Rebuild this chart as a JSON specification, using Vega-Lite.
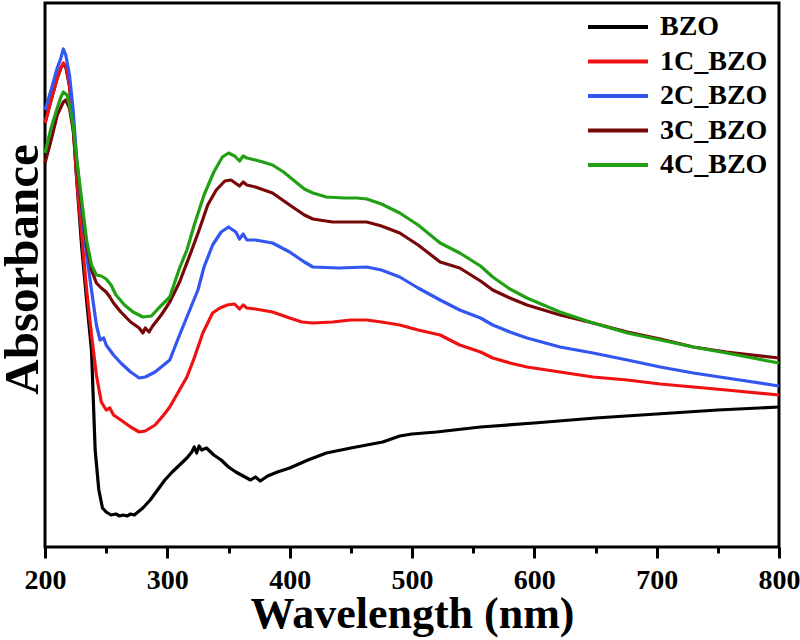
{
  "$schema": "https://vega.github.io/schema/vega-lite/v6.json",
  "width": 734,
  "height": 544,
  "autosize": {"type": "none"},
  "padding": {"left": 45, "top": 3, "right": 21, "bottom": 93},
  "background": "white",
  "config": {
    "view": {"stroke": "black", "strokeWidth": 3},
    "font": "Liberation Serif"
  },
  "datasets": {
    "spec": [
      {"s":"BZO","w":200,"a":0.848},{"s":"BZO","w":205,"a":0.894},{"s":"BZO","w":210,"a":0.938},{"s":"BZO","w":213,"a":0.958},{"s":"BZO","w":215,"a":0.966},{"s":"BZO","w":217,"a":0.960},{"s":"BZO","w":220,"a":0.922},{"s":"BZO","w":223,"a":0.842},{"s":"BZO","w":226,"a":0.732},{"s":"BZO","w":230,"a":0.600},{"s":"BZO","w":234,"a":0.494},{"s":"BZO","w":238,"a":0.394},{"s":"BZO","w":241,"a":0.194},{"s":"BZO","w":244,"a":0.114},{"s":"BZO","w":247,"a":0.078},{"s":"BZO","w":250,"a":0.070},{"s":"BZO","w":254,"a":0.064},{"s":"BZO","w":258,"a":0.066},{"s":"BZO","w":261,"a":0.062},{"s":"BZO","w":264,"a":0.064},{"s":"BZO","w":267,"a":0.062},{"s":"BZO","w":270,"a":0.066},{"s":"BZO","w":273,"a":0.064},{"s":"BZO","w":276,"a":0.070},{"s":"BZO","w":280,"a":0.078},{"s":"BZO","w":286,"a":0.094},{"s":"BZO","w":292,"a":0.114},{"s":"BZO","w":298,"a":0.134},{"s":"BZO","w":304,"a":0.150},{"s":"BZO","w":310,"a":0.164},{"s":"BZO","w":316,"a":0.178},{"s":"BZO","w":320,"a":0.190},{"s":"BZO","w":322,"a":0.200},{"s":"BZO","w":324,"a":0.188},{"s":"BZO","w":326,"a":0.202},{"s":"BZO","w":328,"a":0.194},{"s":"BZO","w":332,"a":0.198},{"s":"BZO","w":338,"a":0.184},{"s":"BZO","w":344,"a":0.174},{"s":"BZO","w":350,"a":0.160},{"s":"BZO","w":356,"a":0.150},{"s":"BZO","w":362,"a":0.142},{"s":"BZO","w":368,"a":0.134},{"s":"BZO","w":372,"a":0.140},{"s":"BZO","w":376,"a":0.132},{"s":"BZO","w":382,"a":0.142},{"s":"BZO","w":390,"a":0.150},{"s":"BZO","w":400,"a":0.158},{"s":"BZO","w":415,"a":0.174},{"s":"BZO","w":430,"a":0.188},{"s":"BZO","w":450,"a":0.198},{"s":"BZO","w":476,"a":0.210},{"s":"BZO","w":490,"a":0.222},{"s":"BZO","w":500,"a":0.226},{"s":"BZO","w":520,"a":0.230},{"s":"BZO","w":556,"a":0.240},{"s":"BZO","w":600,"a":0.248},{"s":"BZO","w":650,"a":0.258},{"s":"BZO","w":700,"a":0.266},{"s":"BZO","w":750,"a":0.274},{"s":"BZO","w":800,"a":0.280},

      {"s":"1C_BZO","w":200,"a":0.848},{"s":"1C_BZO","w":205,"a":0.894},{"s":"1C_BZO","w":210,"a":0.938},{"s":"1C_BZO","w":213,"a":0.958},{"s":"1C_BZO","w":215,"a":0.968},{"s":"1C_BZO","w":217,"a":0.962},{"s":"1C_BZO","w":220,"a":0.924},{"s":"1C_BZO","w":223,"a":0.844},{"s":"1C_BZO","w":226,"a":0.734},{"s":"1C_BZO","w":230,"a":0.624},{"s":"1C_BZO","w":234,"a":0.514},{"s":"1C_BZO","w":238,"a":0.424},{"s":"1C_BZO","w":242,"a":0.344},{"s":"1C_BZO","w":246,"a":0.290},{"s":"1C_BZO","w":250,"a":0.274},{"s":"1C_BZO","w":253,"a":0.278},{"s":"1C_BZO","w":256,"a":0.264},{"s":"1C_BZO","w":262,"a":0.254},{"s":"1C_BZO","w":270,"a":0.240},{"s":"1C_BZO","w":277,"a":0.230},{"s":"1C_BZO","w":282,"a":0.232},{"s":"1C_BZO","w":290,"a":0.244},{"s":"1C_BZO","w":297,"a":0.264},{"s":"1C_BZO","w":302,"a":0.280},{"s":"1C_BZO","w":309,"a":0.310},{"s":"1C_BZO","w":316,"a":0.340},{"s":"1C_BZO","w":322,"a":0.378},{"s":"1C_BZO","w":329,"a":0.428},{"s":"1C_BZO","w":337,"a":0.468},{"s":"1C_BZO","w":343,"a":0.478},{"s":"1C_BZO","w":349,"a":0.484},{"s":"1C_BZO","w":355,"a":0.486},{"s":"1C_BZO","w":359,"a":0.476},{"s":"1C_BZO","w":362,"a":0.484},{"s":"1C_BZO","w":365,"a":0.478},{"s":"1C_BZO","w":372,"a":0.476},{"s":"1C_BZO","w":386,"a":0.470},{"s":"1C_BZO","w":400,"a":0.458},{"s":"1C_BZO","w":410,"a":0.450},{"s":"1C_BZO","w":419,"a":0.448},{"s":"1C_BZO","w":435,"a":0.450},{"s":"1C_BZO","w":450,"a":0.454},{"s":"1C_BZO","w":463,"a":0.454},{"s":"1C_BZO","w":475,"a":0.450},{"s":"1C_BZO","w":490,"a":0.444},{"s":"1C_BZO","w":505,"a":0.434},{"s":"1C_BZO","w":523,"a":0.424},{"s":"1C_BZO","w":539,"a":0.404},{"s":"1C_BZO","w":556,"a":0.390},{"s":"1C_BZO","w":566,"a":0.378},{"s":"1C_BZO","w":580,"a":0.368},{"s":"1C_BZO","w":594,"a":0.360},{"s":"1C_BZO","w":621,"a":0.350},{"s":"1C_BZO","w":648,"a":0.340},{"s":"1C_BZO","w":676,"a":0.334},{"s":"1C_BZO","w":703,"a":0.326},{"s":"1C_BZO","w":730,"a":0.320},{"s":"1C_BZO","w":757,"a":0.314},{"s":"1C_BZO","w":800,"a":0.304},

      {"s":"2C_BZO","w":200,"a":0.874},{"s":"2C_BZO","w":205,"a":0.914},{"s":"2C_BZO","w":210,"a":0.958},{"s":"2C_BZO","w":213,"a":0.978},{"s":"2C_BZO","w":215,"a":0.996},{"s":"2C_BZO","w":217,"a":0.984},{"s":"2C_BZO","w":220,"a":0.944},{"s":"2C_BZO","w":223,"a":0.874},{"s":"2C_BZO","w":226,"a":0.774},{"s":"2C_BZO","w":230,"a":0.674},{"s":"2C_BZO","w":234,"a":0.584},{"s":"2C_BZO","w":238,"a":0.514},{"s":"2C_BZO","w":242,"a":0.444},{"s":"2C_BZO","w":245,"a":0.414},{"s":"2C_BZO","w":248,"a":0.418},{"s":"2C_BZO","w":250,"a":0.404},{"s":"2C_BZO","w":256,"a":0.384},{"s":"2C_BZO","w":262,"a":0.368},{"s":"2C_BZO","w":270,"a":0.350},{"s":"2C_BZO","w":277,"a":0.338},{"s":"2C_BZO","w":282,"a":0.340},{"s":"2C_BZO","w":290,"a":0.350},{"s":"2C_BZO","w":297,"a":0.364},{"s":"2C_BZO","w":302,"a":0.374},{"s":"2C_BZO","w":310,"a":0.424},{"s":"2C_BZO","w":316,"a":0.460},{"s":"2C_BZO","w":325,"a":0.514},{"s":"2C_BZO","w":330,"a":0.560},{"s":"2C_BZO","w":337,"a":0.604},{"s":"2C_BZO","w":344,"a":0.630},{"s":"2C_BZO","w":350,"a":0.640},{"s":"2C_BZO","w":356,"a":0.630},{"s":"2C_BZO","w":359,"a":0.616},{"s":"2C_BZO","w":362,"a":0.626},{"s":"2C_BZO","w":365,"a":0.614},{"s":"2C_BZO","w":372,"a":0.614},{"s":"2C_BZO","w":386,"a":0.608},{"s":"2C_BZO","w":400,"a":0.590},{"s":"2C_BZO","w":412,"a":0.570},{"s":"2C_BZO","w":419,"a":0.560},{"s":"2C_BZO","w":440,"a":0.558},{"s":"2C_BZO","w":463,"a":0.560},{"s":"2C_BZO","w":475,"a":0.554},{"s":"2C_BZO","w":490,"a":0.540},{"s":"2C_BZO","w":505,"a":0.518},{"s":"2C_BZO","w":523,"a":0.494},{"s":"2C_BZO","w":539,"a":0.474},{"s":"2C_BZO","w":556,"a":0.458},{"s":"2C_BZO","w":566,"a":0.444},{"s":"2C_BZO","w":580,"a":0.430},{"s":"2C_BZO","w":594,"a":0.418},{"s":"2C_BZO","w":621,"a":0.400},{"s":"2C_BZO","w":648,"a":0.388},{"s":"2C_BZO","w":676,"a":0.374},{"s":"2C_BZO","w":703,"a":0.360},{"s":"2C_BZO","w":730,"a":0.348},{"s":"2C_BZO","w":757,"a":0.338},{"s":"2C_BZO","w":800,"a":0.322},

      {"s":"3C_BZO","w":200,"a":0.768},{"s":"3C_BZO","w":205,"a":0.814},{"s":"3C_BZO","w":210,"a":0.864},{"s":"3C_BZO","w":215,"a":0.890},{"s":"3C_BZO","w":217,"a":0.894},{"s":"3C_BZO","w":220,"a":0.878},{"s":"3C_BZO","w":223,"a":0.834},{"s":"3C_BZO","w":226,"a":0.764},{"s":"3C_BZO","w":230,"a":0.684},{"s":"3C_BZO","w":234,"a":0.604},{"s":"3C_BZO","w":238,"a":0.554},{"s":"3C_BZO","w":242,"a":0.528},{"s":"3C_BZO","w":246,"a":0.518},{"s":"3C_BZO","w":250,"a":0.510},{"s":"3C_BZO","w":253,"a":0.500},{"s":"3C_BZO","w":256,"a":0.488},{"s":"3C_BZO","w":262,"a":0.470},{"s":"3C_BZO","w":270,"a":0.450},{"s":"3C_BZO","w":277,"a":0.438},{"s":"3C_BZO","w":280,"a":0.428},{"s":"3C_BZO","w":282,"a":0.438},{"s":"3C_BZO","w":285,"a":0.430},{"s":"3C_BZO","w":288,"a":0.442},{"s":"3C_BZO","w":295,"a":0.464},{"s":"3C_BZO","w":302,"a":0.490},{"s":"3C_BZO","w":310,"a":0.530},{"s":"3C_BZO","w":320,"a":0.594},{"s":"3C_BZO","w":326,"a":0.634},{"s":"3C_BZO","w":333,"a":0.684},{"s":"3C_BZO","w":340,"a":0.714},{"s":"3C_BZO","w":347,"a":0.732},{"s":"3C_BZO","w":352,"a":0.734},{"s":"3C_BZO","w":359,"a":0.722},{"s":"3C_BZO","w":362,"a":0.730},{"s":"3C_BZO","w":365,"a":0.724},{"s":"3C_BZO","w":372,"a":0.720},{"s":"3C_BZO","w":386,"a":0.708},{"s":"3C_BZO","w":400,"a":0.684},{"s":"3C_BZO","w":412,"a":0.664},{"s":"3C_BZO","w":419,"a":0.656},{"s":"3C_BZO","w":435,"a":0.650},{"s":"3C_BZO","w":450,"a":0.650},{"s":"3C_BZO","w":463,"a":0.650},{"s":"3C_BZO","w":475,"a":0.642},{"s":"3C_BZO","w":490,"a":0.628},{"s":"3C_BZO","w":505,"a":0.604},{"s":"3C_BZO","w":523,"a":0.570},{"s":"3C_BZO","w":539,"a":0.558},{"s":"3C_BZO","w":556,"a":0.532},{"s":"3C_BZO","w":566,"a":0.514},{"s":"3C_BZO","w":580,"a":0.498},{"s":"3C_BZO","w":594,"a":0.484},{"s":"3C_BZO","w":621,"a":0.464},{"s":"3C_BZO","w":648,"a":0.448},{"s":"3C_BZO","w":676,"a":0.430},{"s":"3C_BZO","w":703,"a":0.416},{"s":"3C_BZO","w":730,"a":0.400},{"s":"3C_BZO","w":757,"a":0.390},{"s":"3C_BZO","w":800,"a":0.378},

      {"s":"4C_BZO","w":200,"a":0.788},{"s":"4C_BZO","w":205,"a":0.838},{"s":"4C_BZO","w":210,"a":0.878},{"s":"4C_BZO","w":213,"a":0.900},{"s":"4C_BZO","w":215,"a":0.910},{"s":"4C_BZO","w":218,"a":0.904},{"s":"4C_BZO","w":220,"a":0.884},{"s":"4C_BZO","w":223,"a":0.844},{"s":"4C_BZO","w":226,"a":0.774},{"s":"4C_BZO","w":230,"a":0.694},{"s":"4C_BZO","w":234,"a":0.614},{"s":"4C_BZO","w":238,"a":0.564},{"s":"4C_BZO","w":242,"a":0.544},{"s":"4C_BZO","w":246,"a":0.542},{"s":"4C_BZO","w":250,"a":0.536},{"s":"4C_BZO","w":254,"a":0.524},{"s":"4C_BZO","w":258,"a":0.504},{"s":"4C_BZO","w":265,"a":0.484},{"s":"4C_BZO","w":272,"a":0.470},{"s":"4C_BZO","w":280,"a":0.460},{"s":"4C_BZO","w":287,"a":0.462},{"s":"4C_BZO","w":293,"a":0.478},{"s":"4C_BZO","w":302,"a":0.500},{"s":"4C_BZO","w":310,"a":0.558},{"s":"4C_BZO","w":316,"a":0.594},{"s":"4C_BZO","w":322,"a":0.644},{"s":"4C_BZO","w":330,"a":0.704},{"s":"4C_BZO","w":338,"a":0.750},{"s":"4C_BZO","w":345,"a":0.780},{"s":"4C_BZO","w":350,"a":0.788},{"s":"4C_BZO","w":355,"a":0.782},{"s":"4C_BZO","w":359,"a":0.772},{"s":"4C_BZO","w":362,"a":0.782},{"s":"4C_BZO","w":365,"a":0.778},{"s":"4C_BZO","w":372,"a":0.774},{"s":"4C_BZO","w":378,"a":0.770},{"s":"4C_BZO","w":386,"a":0.764},{"s":"4C_BZO","w":395,"a":0.750},{"s":"4C_BZO","w":405,"a":0.730},{"s":"4C_BZO","w":412,"a":0.716},{"s":"4C_BZO","w":419,"a":0.708},{"s":"4C_BZO","w":430,"a":0.700},{"s":"4C_BZO","w":445,"a":0.698},{"s":"4C_BZO","w":455,"a":0.698},{"s":"4C_BZO","w":463,"a":0.696},{"s":"4C_BZO","w":475,"a":0.686},{"s":"4C_BZO","w":490,"a":0.668},{"s":"4C_BZO","w":505,"a":0.644},{"s":"4C_BZO","w":523,"a":0.608},{"s":"4C_BZO","w":539,"a":0.588},{"s":"4C_BZO","w":556,"a":0.562},{"s":"4C_BZO","w":566,"a":0.540},{"s":"4C_BZO","w":580,"a":0.516},{"s":"4C_BZO","w":594,"a":0.498},{"s":"4C_BZO","w":621,"a":0.470},{"s":"4C_BZO","w":648,"a":0.448},{"s":"4C_BZO","w":676,"a":0.428},{"s":"4C_BZO","w":703,"a":0.414},{"s":"4C_BZO","w":730,"a":0.400},{"s":"4C_BZO","w":757,"a":0.388},{"s":"4C_BZO","w":800,"a":0.368}
    ]
  },
  "data": {"name": "spec"},
  "layer": [
    {
      "mark": {"type": "line", "strokeWidth": 3.2, "strokeJoin": "round"},
      "encoding": {
        "x": {
          "field": "w", "type": "quantitative",
          "scale": {"domain": [200, 800], "nice": false, "zero": false},
          "axis": {
            "orient": "bottom",
            "values": [200, 300, 400, 500, 600, 700, 800],
            "title": "Wavelength (nm)",
            "grid": false, "domain": false,
            "tickSize": 11, "tickWidth": 3, "tickColor": "black",
            "labelFont": "Liberation Serif", "labelFontWeight": "bold", "labelFontSize": 28, "labelColor": "black",
            "labelPadding": 8, "labelFlush": false,
            "titleFont": "Liberation Serif", "titleFontWeight": "bold", "titleFontSize": 44, "titleColor": "black",
            "titleBaseline": "alphabetic", "titleY": 80
          }
        },
        "y": {
          "field": "a", "type": "quantitative",
          "scale": {"domain": [0, 1.088], "nice": false, "zero": false},
          "axis": {
            "title": "Absorbance",
            "grid": false, "domain": false, "ticks": false, "labels": false,
            "titleFont": "Liberation Serif", "titleFontWeight": "bold", "titleFontSize": 49, "titleColor": "black",
            "titleBaseline": "alphabetic", "titleX": -8, "titleY": 266, "titleAngle": -90
          }
        },
        "color": {
          "field": "s", "type": "nominal",
          "scale": {
            "domain": ["BZO", "1C_BZO", "2C_BZO", "3C_BZO", "4C_BZO"],
            "range": ["#000000", "#f01212", "#3355f0", "#780808", "#22a014"]
          },
          "legend": {
            "title": null,
            "orient": "none", "legendX": 541, "legendY": 9,
            "symbolType": "stroke", "symbolSize": 3600, "symbolStrokeWidth": 4,
            "labelFont": "Liberation Serif", "labelFontWeight": "bold", "labelFontSize": 28, "labelColor": "black",
            "labelOffset": 10, "clipHeight": 30, "rowPadding": 4.5, "padding": 0
          }
        }
      }
    },
    {
      "mark": {"type": "rule", "strokeOpacity": 0},
      "encoding": {
        "x": {
          "field": "w", "type": "quantitative",
          "scale": {"domain": [200, 800], "nice": false, "zero": false},
          "axis": {
            "orient": "bottom",
            "values": [250, 350, 450, 550, 650, 750],
            "title": null, "labels": false, "grid": false, "domain": false,
            "tickSize": 6, "tickWidth": 3, "tickColor": "black"
          }
        }
      }
    }
  ],
  "resolve": {"axis": {"x": "independent"}}
}
